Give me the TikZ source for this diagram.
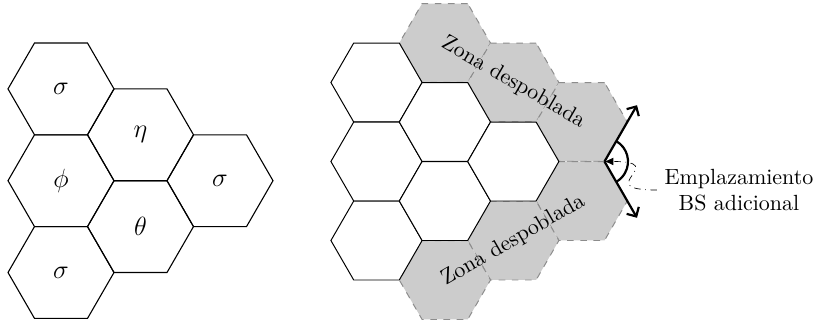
\documentclass[tikz,border=0pt]{standalone}
\usepackage{tikz}
\usetikzlibrary{shapes.geometric,arrows.meta}
\colorlet{zonafill}{black!20}
\colorlet{zonaline}{black!45}

\begin{document}
\begin{tikzpicture}[x=0.16mm,y=0.16mm,
  hexa/.style={regular polygon,regular polygon sides=6,inner sep=0pt,outer sep=0pt,
    minimum size=16.96mm,draw,line width=0.5pt,font=\large},
  hexb/.style={regular polygon,regular polygon sides=6,inner sep=0pt,outer sep=0pt,
    minimum size=14.59mm,draw,line width=0.45pt,fill=white},
  zona/.style={hexb,fill=zonafill,draw=zonaline,dashed},
  bsline/.style={line width=1pt,-{Straight Barb[length=3.2pt,width=6.4pt]}}]
\useasboundingbox (0,0) rectangle (818,323);
% reuso de frecuencias
\foreach \x/\y/\sym/\n in %
{61/234.1/\sigma/a1,61/142.3/\phi/a2,61/50.5/\sigma/a3,140.5/188.2/\eta/a4,140.5/96.4/\theta/a5,220/142.3/\sigma/a6} {
   \node[hexa] (\n) at (\x,\y) {$\sym$};
}
% zona despoblada
\foreach \x/\y/\n in %
{444.9/280/g1,513.3/240.5/g2,581.7/201/g3,581.7/122/g4,513.3/82.5/g5,444.9/43/g6} {
   \node[zona] (\n) at (\x,\y) {};
}
\foreach \x/\y/\n in %
{376.5/240.5/w1,376.5/161.5/w2,376.5/82.5/w3,444.9/201/w4,444.9/122/w5,513.3/161.5/w6} {
   \node[hexb] (\n) at (\x,\y) {};
}
   \node[rotate=-30] (zona1) at (g2) {Zona despoblada};
   \node[rotate=30] (zona2) at (g5) {Zona despoblada};
% BS adicional
   \coordinate (bs) at (g3.-60);
   \draw[bsline] (bs) -- ++(60:10.4mm);
   \draw[bsline] (bs) -- ++(-60:10.4mm);
   \draw[line width=1pt] ([shift={(60:3.76mm)}]bs) arc[start angle=60,end angle=-60,radius=3.76mm];
   \node[align=center] (sitio) at (739,133) {Emplazamiento\\BS adicional};
   \draw[-{Latex[length=4pt,width=3.5pt]},dash dot,line width=0.3pt] (sitio.west) to[out=180,in=0,looseness=2.9] (bs);
\end{tikzpicture}
\end{document}
